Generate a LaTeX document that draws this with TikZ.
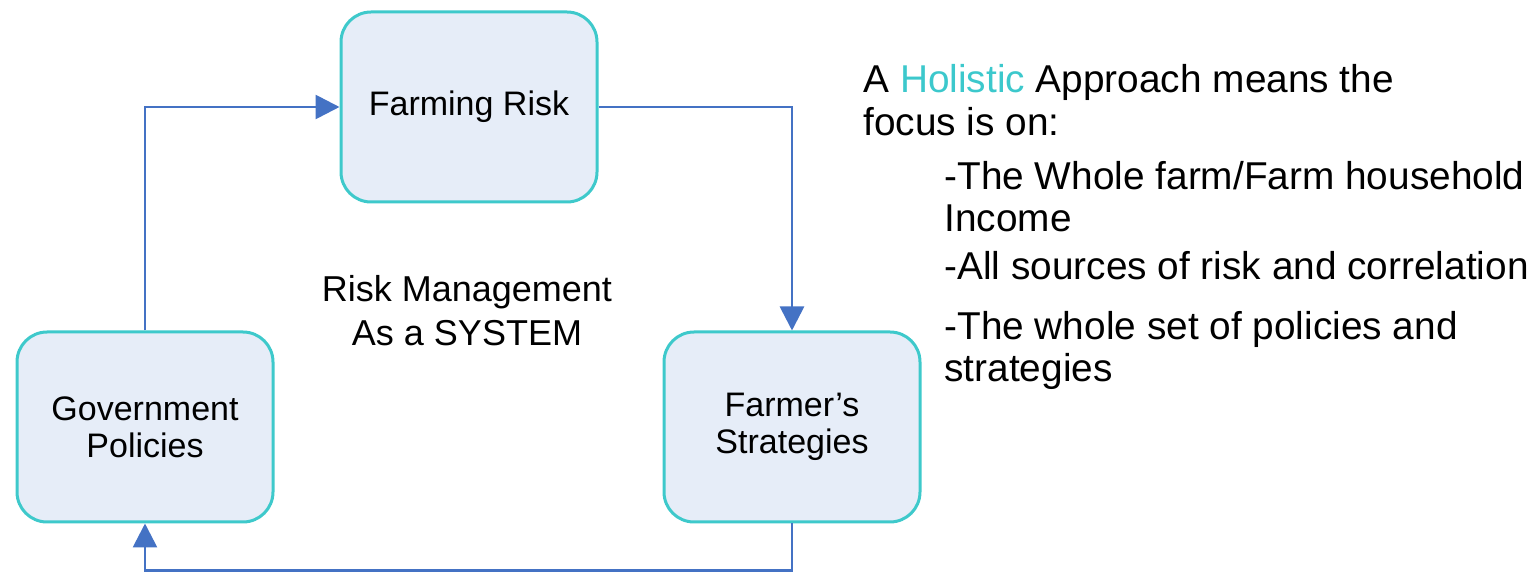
\documentclass[tikz,border=0pt]{standalone}
\usepackage{fontspec}
\setmainfont{Liberation Sans}
\usetikzlibrary{arrows.meta}
\definecolor{boxline}{HTML}{3EC9CB}
\definecolor{boxfill}{HTML}{E6EDF8}
\definecolor{linkblue}{HTML}{4472C4}
\definecolor{holistic}{HTML}{3CC8CC}
\begin{document}
\begin{tikzpicture}[x=0.5pt, y=-0.5pt,
    stage/.style = {draw=boxline, fill=boxfill, line width=1.5pt, rounded corners=15pt,
        minimum width=128pt, minimum height=95pt, align=center,
        font=\fontsize{17}{18.5}\selectfont},
    link/.style = {draw=linkblue, line width=1.4pt, -{Triangle[length=12pt, width=12pt]}},
    note/.style = {anchor=base west, inner sep=0pt, font=\fontsize{19.4}{21}\selectfont}]
    \useasboundingbox (0,0) rectangle (1539,572);
    \node[stage] (risk) at (469,107) {Farming Risk};
    \node[stage] (gov) at (145,427) {Government\\Policies};
    \node[stage] (farmer) at (792,427) {Farmer's\\Strategies};
    \node[align=center, font=\fontsize{18}{22}\selectfont] (system) at (467,311) {Risk Management\\As a SYSTEM};
    \draw[link] (gov.north) |- (risk.west);
    \draw[link] (risk.east) -| (farmer.north);
    \draw[link] (farmer.south) -- ++(0,47) -| (gov.south);
    % holistic approach text
    \node[note] (head1) at (863,93) {A \textcolor{holistic}{Holistic} Approach means the};
    \node[note] (head2) at (863,136) {focus is on:};
    \node[note] (item1a) at (944,190) {-The Whole farm/Farm household};
    \node[note] (item1b) at (944,232) {Income};
    \node[note] (item2) at (944,280) {-All sources of risk and correlation};
    \node[note] (item3a) at (944,340) {-The whole set of policies and};
    \node[note] (item3b) at (944,382) {strategies};
\end{tikzpicture}
\end{document}
